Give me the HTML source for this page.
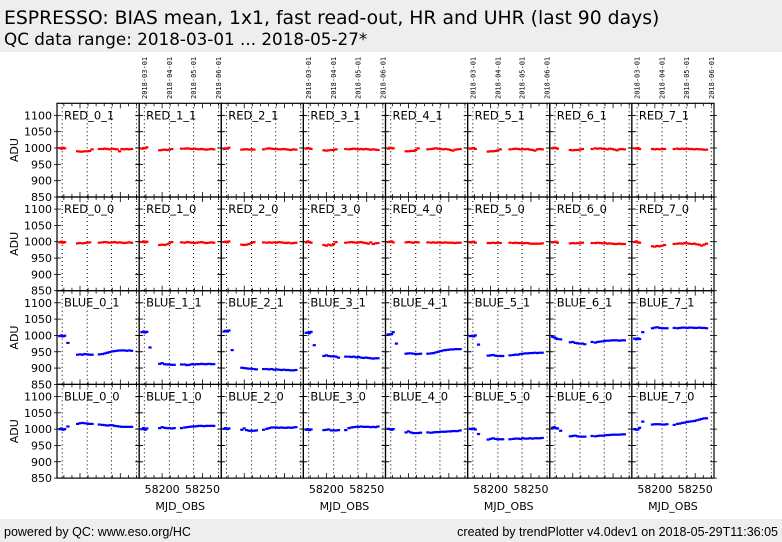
<!DOCTYPE html>
<html><head><meta charset="utf-8">
<style>
body{margin:0;width:782px;height:542px;overflow:hidden;background:#fff;font-family:"DejaVu Sans","Liberation Sans",sans-serif;}
svg{display:block}
</style></head>
<body>
<svg id="chart" width="782" height="542" xmlns="http://www.w3.org/2000/svg" font-family="DejaVu Sans, Liberation Sans, sans-serif">
<rect x="0" y="0" width="782" height="52" fill="#eeeeee"/>
<text x="4" y="24" font-size="18.8">ESPRESSO: BIAS mean, 1x1, fast read-out, HR and UHR (last 90 days)</text>
<text x="4" y="45" font-size="16.8">QC data range: 2018-03-01 ... 2018-05-27*</text>
<rect x="0" y="519" width="782" height="23" fill="#eeeeee"/>
<text x="4" y="536" font-size="12.5" font-family="Liberation Sans, sans-serif">powered by QC: www.eso.org/HC</text>
<text x="778" y="536" font-size="12.5" text-anchor="end" font-family="Liberation Sans, sans-serif">created by trendPlotter v4.0dev1 on 2018-05-29T11:36:05</text>
<g id="plots"></g>
</svg>
<script>
const mjdDates = [58175,58177,58179,58181, 58185, 58197,58200,58203,58206,58209,58212,58215, 58224, 58228,58231,58234,58237,58240,58243,58246,58249,58252,58255,58258,58261,58264];
const rowNames = ["RED_{c}_1","RED_{c}_0","BLUE_{c}_1","BLUE_{c}_0"];
const yTicks = [850,900,950,1000,1050,1100];
const xTickLabels = [58200,58250];
const dateLineMjd = [58178,58209,58239,58270];
const dateLineLabels = ["2018-03-01","2018-04-01","2018-05-01","2018-06-01"];

const red_0_1 = [1000,998,1001,999,null, 990,989,989,990,990,991,996, 997, 997,998,997,996,998,997,996,990,997,996,997,996,997];
const red_1_1 = [998,1000,999,1002,null, 993,994,995,994,995,997,null, 998, 998,999,998,997,998,997,996,997,996,995,996,997,996];
const red_2_1 = [997,999,998,1001,null, 995,996,996,995,996,995,null, 996, 998,999,998,997,997,996,996,997,996,995,994,996,995];
const red_3_1 = [998,1000,999,997,null, 993,992,993,994,994,996,null, 997, 996,997,998,997,996,997,996,997,996,995,996,995,994];
const red_4_1 = [998,1001,1000,999,null, 990,990,991,991,994,999,null, 996, 997,998,999,998,997,996,997,996,994,992,995,996,997];
const red_5_1 = [998,999,1000,997,null, 989,990,990,991,993,996,null, 996, 997,998,997,996,997,996,997,995,994,992,996,997,996];
const red_6_1 = [999,1001,1000,998,null, 994,993,994,994,995,997,null, 997, 999,998,999,998,997,996,998,997,995,993,996,997,996];
const red_7_1 = [999,998,1000,997,null, 997,996,997,996,997,997,null, 997, 998,997,998,997,998,997,997,996,997,996,996,995,995];
const red_0_0 = [998,1000,997,999,null, 995,996,995,996,997,998,null, 997, 998,999,998,997,998,999,997,998,997,996,997,998,997];
const red_1_0 = [999,1001,998,1000,null, 990,991,990,992,995,999,null, 998, 997,999,998,997,996,997,998,999,997,996,997,998,997];
const red_2_0 = [999,1000,998,1001,null, 991,990,991,993,996,999,null, 998, 997,998,997,998,997,999,998,997,996,997,995,996,997];
const red_3_0 = [998,1001,999,997,null, 990,988,991,989,993,999,null, 997, 998,999,998,997,998,999,997,996,994,998,993,995,996];
const red_4_0 = [999,1000,1001,998,null, 998,999,998,997,999,998,null, 998, 997,998,997,998,997,997,998,997,997,997,996,997,997];
const red_5_0 = [998,999,1000,997,null, 996,996,997,996,997,996,null, 997, 996,997,996,996,995,996,996,994,994,994,994,994,995];
const red_6_0 = [998,999,1000,997,null, 995,996,995,996,995,997,null, 996, 996,997,996,995,996,994,995,994,993,993,994,993,993];
const red_7_0 = [999,1001,998,997,null, 986,985,987,986,988,990,null, 993, 994,995,994,996,995,994,993,994,992,991,988,991,994];
const blue_0_1 = [998,1000,997,999, 977, 941,942,941,943,942,941,941, 942, 943,945,947,949,951,952,953,954,954,954,953,954,953];
const blue_1_1 = [1010,1012,1009,1011, 963, 913,915,912,911,911,910,910, 911, 911,909,910,912,911,912,912,913,912,912,913,912,912];
const blue_2_1 = [1012,1014,1012,1015, 955, 901,900,899,898,898,897,896, 897, 897,896,897,895,896,895,894,895,894,894,893,893,894];
const blue_3_1 = [1008,1009,1007,1011, 970, 937,939,937,936,936,935,932, 935, 935,934,935,933,934,932,931,932,931,930,929,930,930];
const blue_4_1 = [1003,1003,1004,1010, 975, 944,945,945,944,943,943,944, 944, 945,946,948,950,952,954,955,956,957,957,958,958,958];
const blue_5_1 = [998,999,997,1000, 972, 938,939,940,938,937,937,937, 939, 940,941,941,943,944,945,945,946,946,947,946,947,947];
const blue_6_1 = [996,994,992,989, 988, 979,980,977,976,975,975,973, 980, 978,980,981,982,983,984,984,985,985,985,984,985,985];
const blue_7_1 = [990,988,991,989, 1010, 1022,1024,1025,1023,1022,1022,1022, 1023, 1022,1023,1024,1024,1023,1024,1024,1023,1023,1024,1023,1023,1022];
const blue_0_0 = [1000,1002,998,1000, 1008, 1016,1018,1019,1018,1017,1016,1016, 1014, 1013,1012,1011,1012,1012,1010,1009,1008,1007,1007,1007,1007,1007];
const blue_1_0 = [1000,1003,998,1002, null, 1003,1006,1004,1003,1003,1002,1003, 1003, 1005,1006,1007,1008,1008,1009,1010,1010,1009,1010,1010,1010,1010];
const blue_2_0 = [1001,1003,1000,1002, null, 998,1002,997,995,995,995,996, 998, 1001,1003,1005,1005,1005,1004,1005,1004,1004,1005,1004,1005,1006];
const blue_3_0 = [998,1000,997,999, null, 997,998,999,996,996,996,997, 997, 1003,1005,1006,1007,1007,1008,1007,1007,1007,1006,1007,1006,1008];
const blue_4_0 = [1001,1000,998,1000, null, 990,993,990,988,988,988,989, 990, 989,990,991,991,992,992,992,993,993,994,994,994,996];
const blue_5_0 = [1001,1000,1002,999, 985, 968,970,972,970,969,969,969, 969, 970,971,971,970,972,971,971,972,971,972,972,972,973];
const blue_6_0 = [1004,1006,1003,1002, 995, 978,979,980,978,977,977,977, 979, 978,979,980,980,981,982,982,983,983,983,983,984,984];
const blue_7_0 = [1000,998,999,1004, 1023, 1014,1015,1015,1015,1014,1014,1015, 1013, 1016,1017,1019,1020,1022,1023,1024,1025,1027,1029,1031,1033,1033];

const series = [
 [red_0_1,red_1_1,red_2_1,red_3_1,red_4_1,red_5_1,red_6_1,red_7_1],
 [red_0_0,red_1_0,red_2_0,red_3_0,red_4_0,red_5_0,red_6_0,red_7_0],
 [blue_0_1,blue_1_1,blue_2_1,blue_3_1,blue_4_1,blue_5_1,blue_6_1,blue_7_1],
 [blue_0_0,blue_1_0,blue_2_0,blue_3_0,blue_4_0,blue_5_0,blue_6_0,blue_7_0]
];

const NS="http://www.w3.org/2000/svg";
const root=document.getElementById('plots');
const X0=57, PW=82.125, Y0=103.3, PH=93.7;
const XMIN=58171.5, XMAX=58273.3, YMIN=850, YMAX=1137;
function xs(c,m){return X0+c*PW+(m-XMIN)/(XMAX-XMIN)*PW;}
function ys(r,v){return Y0+(r+1)*PH-(v-YMIN)/(YMAX-YMIN)*PH;}
function mk(tag,attrs,parent){const e=document.createElementNS(NS,tag);for(const k in attrs)e.setAttribute(k,attrs[k]);(parent||root).appendChild(e);return e;}

for(let r=0;r<4;r++){
  const yl=mk('text',{x:14,y:Y0+r*PH+PH/2,'font-size':11,'text-anchor':'middle',transform:`rotate(-90 14 ${Y0+r*PH+PH/2})`,dy:4});
  yl.textContent='ADU';
  
  
  for(const t of yTicks){
    const tl=mk('text',{x:52,y:ys(r,t)+4,'font-size':11,'text-anchor':'end'});
    tl.textContent=t;
    
    
  }
  for(let c=0;c<8;c++){
    const px=X0+c*PW, py=Y0+r*PH;
    const g=mk('g',{});
    
    
    for(const m of dateLineMjd){
      const x=xs(c,m);
      mk('line',{x1:x,x2:x,y1:py,y2:py+PH,stroke:'#000','stroke-width':1,'stroke-dasharray':'1,3'},g);
    }
    for(const t of yTicks){
      const y=ys(r,t);
      mk('line',{x1:px-3,x2:px+4,y1:y,y2:y,stroke:'#000','stroke-width':0.8},g);
      mk('line',{x1:px+PW-4,x2:px+PW+3,y1:y,y2:y,stroke:'#000','stroke-width':0.8},g);
    }
    for(let m=58180;m<=58270;m+=10){
      const x=xs(c,m), L=(m%50===0)?5:3;
      mk('line',{x1:x,x2:x,y1:py+PH,y2:py+PH-L,stroke:'#000','stroke-width':0.8},g);
      mk('line',{x1:x,x2:x,y1:py,y2:py+L,stroke:'#000','stroke-width':0.8},g);
    }
    const vals=series[r][c];
    const col=r<2?'#ff0000':'#0000ff';
    for(let i=0;i<mjdDates.length;i++){
      if(vals[i]===null) continue;
      const p=mk('rect',{x:xs(c,mjdDates[i])-1.6,y:ys(r,vals[i])-1.1,width:3.2,height:2.2,fill:col},g);
      
      
    }
    mk('rect',{x:px,y:py,width:PW,height:PH,fill:'none',stroke:'#000','stroke-width':1.2},g);
    const lab=mk('text',{x:px+7,y:py+16,'font-size':11.5},g);
    lab.textContent=rowNames[r].replace('{c}',c);
    
    
  }
}
for(let c=1;c<8;c+=2){
  for(let i=0;i<dateLineMjd.length;i++){
    const x=xs(c,dateLineMjd[i])+2.5;
    const t=mk('text',{x:x,y:99,'font-size':7,'font-family':'DejaVu Sans Mono, Liberation Mono, monospace',transform:`rotate(-90 ${x} 99)`});
    t.textContent=dateLineLabels[i];
    
    
  }
  for(const m of xTickLabels){
    const t=mk('text',{x:xs(c,m),y:493,'font-size':11,'text-anchor':'middle'});
    t.textContent=m;
    
    
  }
  const xt=mk('text',{x:X0+c*PW+PW/2,y:510,'font-size':11,'text-anchor':'middle'});
  xt.textContent='MJD_OBS';
  
  
}
</script>
</body></html>
